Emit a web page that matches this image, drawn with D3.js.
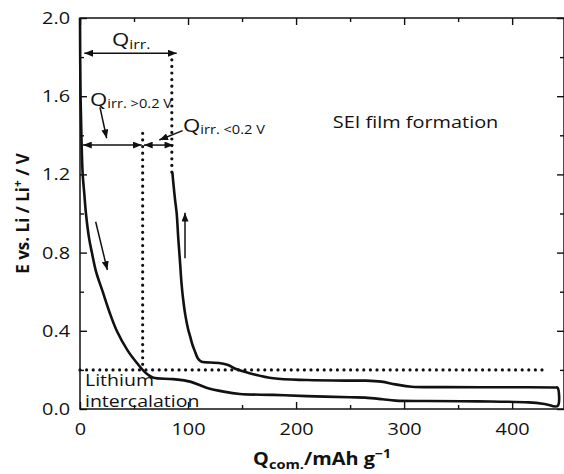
<!DOCTYPE html>
<html>
<head>
<meta charset="utf-8">
<script src="https://cdn.jsdelivr.net/npm/d3@7"></script>
<style>
  html, body { margin: 0; padding: 0; background: #fff; }
  svg { display: block; }
</style>
</head>
<body>
<svg id="chart" width="564" height="474"></svg>
<script>
// First cycle of a graphite electrode: lithiation (down) and delithiation (up)
const dischargeQ = [0, 0.5, 1.5, 2.5, 4, 5.5, 8.5, 11, 15, 21, 27, 34, 44, 52, 58, 63, 68, 86, 102, 117, 133, 148, 179, 210, 250, 264, 280, 292, 322, 368, 415, 430, 442];
const dischargeE = [2.0, 1.6, 1.35, 1.2, 1.1, 1.0, 0.87, 0.8, 0.7, 0.6, 0.5, 0.4, 0.3, 0.24, 0.2, 0.175, 0.16, 0.153, 0.14, 0.109, 0.089, 0.077, 0.072, 0.066, 0.06, 0.058, 0.05, 0.043, 0.041, 0.039, 0.034, 0.026, 0.015];

const chargeQ = [442, 442, 440, 400, 338, 307, 292, 279, 264, 250, 210, 179, 157, 145, 137, 130, 114, 112, 109, 106, 104, 102, 100, 97.5, 95.5, 94, 92.6, 91, 89.5, 88, 86.5, 85.5];
const chargeE = [0.015, 0.109, 0.11, 0.111, 0.112, 0.114, 0.126, 0.14, 0.145, 0.145, 0.148, 0.157, 0.183, 0.203, 0.225, 0.234, 0.24, 0.243, 0.26, 0.30, 0.33, 0.37, 0.41, 0.48, 0.56, 0.64, 0.75, 0.87, 1.0, 1.07, 1.15, 1.21];

// Irreversible capacity markers
const qIrr = 85;          // total irreversible capacity
const qIrrAbove = 58;     // part consumed above the 0.2 V limit
const eLimit = 0.2;       // onset of lithium intercalation
const eIrrArrow = 1.82;
const eSplitArrow = 1.35;
const qLimitEnd = 433;

// Axis ticks
const xMajor = [0, 100, 200, 300, 400];
const xMinor = [50, 150, 250, 350];
const yMajor = [0, 0.4, 0.8, 1.2, 1.6, 2.0];
const yMinor = [0.2, 0.6, 1.0, 1.4, 1.8];

const FONT = "'Open Sans', sans-serif";
const SX = 1.17;
const INK = "#111";

const svg = d3.select("#chart");
const mLeft = 80, mRight = 564, mTop = 18, mBottom = 409;
const x = d3.scaleLinear().domain([0, 448]).range([mLeft, mRight]);
const y = d3.scaleLinear().domain([0, 2]).range([mBottom, mTop]);

// arrowhead marker
const defs = svg.append("defs");
defs.append("marker")
  .attr("id", "head")
  .attr("viewBox", "0 0 10 8")
  .attr("refX", 10).attr("refY", 4)
  .attr("markerWidth", 9).attr("markerHeight", 7)
  .attr("markerUnits", "userSpaceOnUse")
  .attr("orient", "auto-start-reverse")
  .append("path").attr("d", "M0,0 L10,4 L0,8 Z").attr("fill", INK);

// axes: ticks pointing inward on all four sides
function styleAxis(g) {
  g.select(".domain").remove();
  g.selectAll(".tick line").attr("stroke", INK).attr("stroke-width", 1.4);
  g.selectAll(".tick text").attr("fill", INK)
    .style("font-family", FONT).style("font-size", "17px").style("font-weight", 500);
}
const none = () => "";

svg.append("g").attr("transform", `translate(0,${mBottom})`)
  .call(d3.axisBottom(x).tickValues(xMajor).tickSize(-7).tickPadding(14).tickFormat(d3.format("d")))
  .call(styleAxis)
  .call(g => g.selectAll(".tick text").attr("transform", `scale(${SX},1)`));
svg.append("g").attr("transform", `translate(0,${mBottom})`)
  .call(d3.axisBottom(x).tickValues(xMinor).tickSize(-4).tickFormat(none)).call(styleAxis);
svg.append("g").attr("transform", `translate(0,${mTop})`)
  .call(d3.axisTop(x).tickValues(xMajor).tickSize(-7).tickFormat(none)).call(styleAxis);
svg.append("g").attr("transform", `translate(0,${mTop})`)
  .call(d3.axisTop(x).tickValues(xMinor).tickSize(-4).tickFormat(none)).call(styleAxis);

svg.append("g").attr("transform", `translate(${mLeft},0)`)
  .call(d3.axisLeft(y).tickValues(yMajor).tickSize(-7).tickPadding(10).tickFormat(d3.format(".1f")))
  .call(styleAxis)
  .call(g => g.selectAll(".tick text")
    .attr("x", -10 / SX)
    .attr("transform", `scale(${SX},1)`));
svg.append("g").attr("transform", `translate(${mLeft},0)`)
  .call(d3.axisLeft(y).tickValues(yMinor).tickSize(-4).tickFormat(none)).call(styleAxis);
svg.append("g").attr("transform", `translate(${mRight},0)`)
  .call(d3.axisRight(y).tickValues(yMajor).tickSize(-7).tickFormat(none)).call(styleAxis);
svg.append("g").attr("transform", `translate(${mRight},0)`)
  .call(d3.axisRight(y).tickValues(yMinor).tickSize(-4).tickFormat(none)).call(styleAxis);

// frame
svg.append("rect")
  .attr("x", mLeft).attr("y", mTop)
  .attr("width", mRight - mLeft).attr("height", mBottom - mTop)
  .attr("fill", "none").attr("stroke", INK).attr("stroke-width", 1.5);

// axis titles
const xTitle = svg.append("text")
  .attr("transform", `translate(${(mLeft + mRight) / 2},465) scale(${SX},1)`)
  .attr("text-anchor", "middle").attr("fill", INK)
  .style("font-family", FONT).style("font-weight", "bold").style("font-size", "17px");
xTitle.append("tspan").text("Q");
xTitle.append("tspan").attr("dy", 4).style("font-size", "12.5px").text("com.");
xTitle.append("tspan").attr("dy", -4).text("/mAh g");
xTitle.append("tspan").attr("dy", -7).style("font-size", "12px").text("\u22121");

const yTitle = svg.append("text")
  .attr("transform", `translate(29,${(mTop + mBottom) / 2}) rotate(-90)`)
  .attr("text-anchor", "middle").attr("fill", INK)
  .style("font-family", FONT).style("font-weight", "bold").style("font-size", "17px");
yTitle.append("tspan").text("E vs. Li / Li");
yTitle.append("tspan").attr("dy", -7).style("font-size", "12px").text("+");
yTitle.append("tspan").attr("dy", 7).text(" / V");

// dotted guide lines
const dotted = (q1, e1, q2, e2) => svg.append("line")
  .attr("x1", x(q1)).attr("y1", y(e1)).attr("x2", x(q2)).attr("y2", y(e2))
  .attr("stroke", INK).attr("stroke-width", 3.2)
  .attr("stroke-linecap", "round").attr("stroke-dasharray", "0,6.6");
dotted(0, eLimit, qLimitEnd, eLimit);
dotted(qIrr, eIrrArrow, qIrr, 1.21);
dotted(qIrrAbove, 1.41, qIrrAbove, eLimit);

// potential profile
const loop = dischargeQ.map((q, i) => [q, dischargeE[i]])
  .concat(chargeQ.slice(1).map((q, i) => [q, chargeE[i + 1]]));
svg.append("path")
  .datum(loop)
  .attr("d", d3.line().x(d => x(d[0])).y(d => y(d[1])).curve(d3.curveCatmullRom.alpha(0.5)))
  .attr("fill", "none").attr("stroke", INK).attr("stroke-width", 2.6)
  .attr("stroke-linejoin", "round");

// arrows
const arrow = (q1, e1, q2, e2, both) => svg.append("line")
  .attr("x1", x(q1)).attr("y1", y(e1)).attr("x2", x(q2)).attr("y2", y(e2))
  .attr("stroke", INK).attr("stroke-width", 1.5)
  .attr("marker-end", "url(#head)")
  .attr("marker-start", both ? "url(#head)" : null);
arrow(4, eIrrArrow, 89.5, eIrrArrow, true);
arrow(2.8, eSplitArrow, 57.1, eSplitArrow, true);
arrow(59.2, eSplitArrow, 86.4, eSplitArrow, true);
arrow(18.5, 1.543, 24.7, 1.385, false);
arrow(95, 1.424, 73.4, 1.376, false);
arrow(14.5, 0.958, 25.3, 0.711, false);
arrow(97.2, 0.771, 97.2, 1.004, false);

// text labels; each entry is [text, font size, dy, x]
function label(q, e, parts, size, sx = SX) {
  const t = svg.append("text")
    .attr("transform", `translate(${x(q)},${y(e)}) scale(${sx},1)`)
    .attr("fill", INK).style("font-family", FONT).style("font-size", size + "px");
  parts.forEach(p => {
    const s = t.append("tspan").attr("dy", p[2] || 0).text(p[0]);
    if (p[1]) s.style("font-size", p[1] + "px");
    if (p[3] !== undefined) s.attr("x", p[3]);
  });
  return t;
}
label(29.6, 1.858, [["Q"], ["irr.", 13.5, 3]], 19);
label(9.3, 1.55, [["Q"], ["irr. >0.2 V", 12.5, 2]], 19);
label(95.3, 1.418, [["Q"], ["irr. <0.2 V", 12.5, 2]], 19);
label(234, 1.436, [["SEI film formation"]], 17);
label(4.6, 0.118, [["Lithium"]], 15.5, 1.26);
label(4.6, 0.01, [["intercalation"]], 15.5, 1.26);
</script>
</body>
</html>
